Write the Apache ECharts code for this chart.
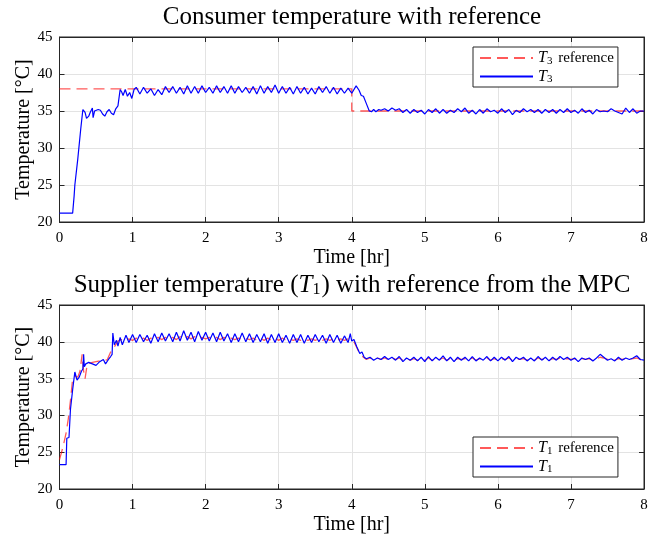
<!DOCTYPE html>
<html>
<head>
<meta charset="utf-8">
<script src="https://cdn.jsdelivr.net/npm/echarts@6/dist/echarts.min.js"></script>
<style>html,body{margin:0;padding:0;background:#fff}#c{width:666px;height:536px}</style>
</head>
<body>
<div id="c"></div>
<script>
// ---- data (time [hr], temperature [°C]) ----
const xTicks = [0,1,2,3,4,5,6,7,8];
const yTicks = [20,25,30,35,40,45];

const t3Ref = [[0,38],[4,38],[4,35],[8,35]];
const t3 = [
[0,21.2],[0.18,21.2],[0.2,23.5],[0.21,25.0],[0.25,28.5],[0.29,32.5],[0.32,35.2],[0.35,34.8],[0.37,34.0],[0.4,34.3],
[0.42,34.8],[0.44,34.6],[0.45,35.4],[0.46,34.1],[0.48,35.0],[0.5,34.8],[0.53,35.2],[0.56,35.1],[0.59,34.6],[0.62,34.3],
[0.65,34.9],[0.68,35.2],[0.71,34.7],[0.74,34.5],[0.77,35.3],[0.8,35.7],[0.82,35.9],[0.83,37.9],[0.85,37.6],[0.87,37.1],
[0.9,37.9],[0.93,37.0],[0.96,37.5],[0.99,36.7],[1.02,37.9],[1.05,38.2],[1.10,37.3],[1.15,38.2],[1.20,37.4],[1.25,38.0],
[1.30,37.1],[1.35,37.9],[1.40,37.2],[1.45,38.3],[1.50,37.5],[1.55,38.3],[1.60,37.4],[1.65,38.2],[1.70,37.3],[1.75,38.4],
[1.80,37.4],[1.85,38.3],[1.90,37.4],[1.95,38.4],[2.00,37.5],[2.05,38.2],[2.10,37.4],[2.15,38.4],[2.20,37.5],[2.25,38.3],
[2.30,37.4],[2.35,38.4],[2.40,37.4],[2.45,38.3],[2.50,37.5],[2.55,38.2],[2.60,37.4],[2.65,38.3],[2.70,37.3],[2.75,38.4],
[2.80,37.4],[2.85,38.3],[2.90,37.5],[2.95,38.5],[3.00,37.4],[3.05,38.3],[3.10,37.4],[3.15,38.2],[3.20,37.3],[3.25,38.3],
[3.30,37.4],[3.35,38.2],[3.40,37.3],[3.45,38.1],[3.50,37.3],[3.55,38.3],[3.60,37.5],[3.65,38.3],[3.70,37.4],[3.75,38.2],
[3.80,37.3],[3.85,38.1],[3.90,37.4],[3.95,38.1],[4.00,37.4],[4.06,38.4],[4.10,37.8],[4.13,37.1],[4.16,37.0],[4.20,36.0],
[4.24,35.0],[4.27,34.9],[4.30,35.2],[4.33,34.9],[4.37,35.2],[4.40,35.1],[4.45,35.3],[4.50,35.0],[4.55,35.4],[4.60,35.1],
[4.65,35.3],[4.70,34.8],[4.75,35.2],[4.80,34.7],[4.85,35.2],[4.90,34.8],[4.95,35.1],[5.00,34.6],[5.05,35.2],[5.10,34.8],
[5.15,35.3],[5.20,34.7],[5.25,35.2],[5.30,34.7],[5.35,35.1],[5.40,34.8],[5.45,35.3],[5.50,34.9],[5.55,35.4],[5.60,34.7],
[5.65,35.1],[5.70,34.6],[5.75,35.2],[5.80,34.7],[5.85,35.3],[5.90,34.9],[5.95,35.1],[6.00,34.7],[6.05,35.3],[6.10,34.8],
[6.15,35.2],[6.20,34.5],[6.25,35.1],[6.30,34.8],[6.35,35.3],[6.40,34.9],[6.45,35.2],[6.50,34.8],[6.55,35.2],[6.60,34.7],
[6.65,35.2],[6.70,34.8],[6.75,35.2],[6.80,34.7],[6.85,35.2],[6.90,34.8],[6.95,35.3],[7.00,34.8],[7.05,35.1],[7.10,34.7],
[7.15,35.3],[7.20,34.8],[7.25,35.1],[7.30,34.6],[7.35,35.2],[7.40,34.9],[7.45,35.0],[7.50,34.9],[7.55,35.3],[7.60,35.0],
[7.65,34.8],[7.70,34.6],[7.75,35.4],[7.80,34.8],[7.85,35.3],[7.90,34.7],[7.95,35.0],[8.00,35.0]
];

const t1Ref = [
[0,24.0],[0.05,25.8],[0.09,27.6],[0.12,29.5],[0.15,32.0],[0.18,35.0],[0.21,35.3],[0.25,35.2],[0.28,36.0],[0.31,38.3],
[0.33,36.0],[0.35,35.0],[0.38,37.0],[0.45,37.2],[0.55,37.4],[0.60,37.6],[0.65,37.5],[0.70,38.6],[0.75,39.3],[0.80,40.1],
[0.85,40.3],[0.90,40.1],[0.95,40.4],[1.00,40.2],[1.05,40.5],[1.10,40.2],[1.15,40.5],[1.20,40.2],[1.25,40.5],[1.30,40.3],
[1.35,40.6],[1.40,40.3],[1.45,40.6],[1.50,40.3],[1.55,40.6],[1.60,40.3],[1.65,40.7],[1.70,40.4],[1.75,40.7],[1.80,40.4],
[1.85,40.7],[1.90,40.4],[1.95,40.6],[2.00,40.4],[2.05,40.6],[2.10,40.3],[2.15,40.6],[2.20,40.3],[2.25,40.6],[2.30,40.3],
[2.35,40.5],[2.40,40.3],[2.45,40.5],[2.50,40.3],[2.55,40.5],[2.60,40.3],[2.65,40.5],[2.70,40.2],[2.75,40.5],[2.80,40.2],
[2.85,40.5],[2.90,40.2],[2.95,40.5],[3.00,40.2],[3.05,40.5],[3.10,40.2],[3.15,40.4],[3.20,40.2],[3.25,40.4],[3.30,40.2],
[3.35,40.4],[3.40,40.2],[3.45,40.4],[3.50,40.2],[3.55,40.4],[3.60,40.2],[3.65,40.4],[3.70,40.2],[3.75,40.4],[3.80,40.2],
[3.85,40.4],[3.90,40.2],[3.95,40.4],[4.00,40.2],[4.03,40.0],[4.07,39.2],[4.11,38.4],[4.16,37.9],[4.20,37.6],[4.25,37.8],
[4.30,37.6],[4.35,37.8],[4.40,37.6],[4.45,37.8],[4.50,37.6],[4.55,37.8],[4.60,37.6],[4.65,37.8],[4.70,37.5],[4.75,37.7],
[4.80,37.5],[4.85,37.7],[4.90,37.5],[4.95,37.7],[5.00,37.5],[5.05,37.8],[5.10,37.5],[5.15,37.7],[5.20,37.6],[5.25,37.8],
[5.30,37.5],[5.35,37.7],[5.40,37.5],[5.45,37.7],[5.50,37.6],[5.55,37.7],[5.60,37.5],[5.65,37.8],[5.70,37.5],[5.75,37.7],
[5.80,37.6],[5.85,37.8],[5.90,37.5],[5.95,37.7],[6.00,37.5],[6.05,37.7],[6.10,37.6],[6.15,37.8],[6.20,37.5],[6.25,37.7],
[6.30,37.6],[6.35,37.7],[6.40,37.5],[6.45,37.7],[6.50,37.5],[6.55,37.8],[6.60,37.6],[6.65,37.7],[6.70,37.5],[6.75,37.7],
[6.80,37.6],[6.85,37.8],[6.90,37.6],[6.95,37.7],[7.00,37.6],[7.05,37.7],[7.10,37.5],[7.15,37.7],[7.20,37.6],[7.25,37.7],
[7.30,37.5],[7.35,37.7],[7.40,37.9],[7.45,37.8],[7.50,37.6],[7.55,37.7],[7.60,37.5],[7.65,37.7],[7.70,37.6],[7.75,37.7],
[7.80,37.6],[7.85,37.7],[7.90,37.8],[7.95,37.6],[8.00,36.8]
];
const t1 = [
[0,23.3],[0.09,23.3],[0.10,26.9],[0.13,27.0],[0.15,30.8],[0.18,33.5],[0.21,35.9],[0.24,34.8],[0.27,35.2],[0.30,36.0],
[0.32,36.3],[0.33,38.3],[0.34,36.6],[0.36,37.0],[0.40,37.2],[0.45,37.0],[0.50,36.8],[0.55,37.3],[0.60,37.6],[0.63,37.0],
[0.67,37.6],[0.70,38.0],[0.72,38.3],[0.73,41.2],[0.75,39.6],[0.78,40.2],[0.80,39.4],[0.83,40.6],[0.86,39.6],[0.88,39.4],
[0.91,40.9],[0.95,39.9],[1.00,41.0],[1.05,39.9],[1.10,41.0],[1.15,40.0],[1.20,40.9],[1.25,39.8],[1.30,41.1],[1.35,40.0],
[1.40,41.2],[1.45,40.1],[1.50,41.1],[1.55,40.0],[1.60,41.3],[1.65,40.1],[1.70,41.5],[1.75,40.2],[1.80,41.3],[1.85,40.0],
[1.90,41.4],[1.95,40.2],[2.00,41.3],[2.05,40.1],[2.10,41.2],[2.15,40.0],[2.20,41.3],[2.25,40.1],[2.30,41.1],[2.35,39.9],
[2.40,41.1],[2.45,40.0],[2.50,41.2],[2.55,40.0],[2.60,41.1],[2.65,39.9],[2.70,41.0],[2.75,40.0],[2.80,41.1],[2.85,39.8],
[2.90,41.0],[2.95,39.9],[3.00,41.1],[3.05,39.9],[3.10,40.9],[3.15,39.8],[3.20,41.0],[3.25,39.9],[3.30,41.0],[3.35,39.8],
[3.40,40.9],[3.45,39.9],[3.50,41.0],[3.55,40.0],[3.60,40.9],[3.65,39.8],[3.70,41.0],[3.75,39.9],[3.80,40.9],[3.85,39.8],
[3.90,40.8],[3.95,39.9],[3.98,41.1],[4.00,40.1],[4.03,40.3],[4.07,39.3],[4.11,38.4],[4.14,38.6],[4.17,37.9],[4.20,37.7],
[4.25,37.9],[4.30,37.5],[4.35,37.8],[4.40,37.6],[4.45,38.0],[4.50,37.6],[4.55,37.9],[4.60,37.5],[4.65,38.0],[4.70,37.3],
[4.75,37.8],[4.80,37.5],[4.85,37.9],[4.90,37.4],[4.95,37.9],[5.00,37.3],[5.05,38.0],[5.10,37.4],[5.15,37.9],[5.20,37.5],
[5.25,38.1],[5.30,37.4],[5.35,37.9],[5.40,37.3],[5.45,37.9],[5.50,37.5],[5.55,37.9],[5.60,37.4],[5.65,38.0],[5.70,37.4],
[5.75,37.8],[5.80,37.5],[5.85,38.0],[5.90,37.4],[5.95,37.9],[6.00,37.4],[6.05,37.9],[6.10,37.5],[6.15,38.0],[6.20,37.3],
[6.25,37.9],[6.30,37.6],[6.35,37.9],[6.40,37.4],[6.45,37.8],[6.50,37.4],[6.55,38.0],[6.60,37.5],[6.65,37.9],[6.70,37.4],
[6.75,37.9],[6.80,37.5],[6.85,38.0],[6.90,37.6],[6.95,37.9],[7.00,37.5],[7.05,37.8],[7.10,37.3],[7.15,37.8],[7.20,37.6],
[7.25,37.8],[7.30,37.4],[7.35,37.8],[7.40,38.3],[7.45,37.9],[7.50,37.5],[7.55,37.7],[7.60,37.4],[7.65,37.9],[7.70,37.5],
[7.75,37.8],[7.80,37.6],[7.85,37.8],[7.90,38.1],[7.95,37.6],[8.00,37.5]
];

// ---- chart ----
const FONT = 'Liberation Serif';
const INK = '#262626';
const rich = {
  i: {fontFamily: FONT, fontStyle: 'italic', fontSize: 16, color: '#000'},
  s: {fontFamily: FONT, fontSize: 11, color: '#000', verticalAlign: 'bottom', padding: [6,2,0,0]},
  n: {fontFamily: FONT, fontSize: 15, color: '#000'}
};
const titleRich = {
  i: {fontFamily: FONT, fontStyle: 'italic', fontSize: 25, color: '#000'},
  s: {fontFamily: FONT, fontSize: 16, color: '#000', verticalAlign: 'bottom', padding: [10,1,0,0]}
};
function legendFmt(name) {
  const m = name.match(/^T(\d)(.*)$/);
  return '{i|T}{s|' + m[1] + '}' + (m[2] ? '{n|' + m[2] + '}' : '');
}
const grids = [
  {left: 59.5, right: 22, top: 37, height: 185, show: true, borderColor: INK, borderWidth: 1},
  {left: 59.5, right: 22, top: 305, height: 185, show: true, borderColor: INK, borderWidth: 1}
];
function xAx(g, pos) {
  const main = pos === 'bottom';
  return {
    type: 'value', gridIndex: g, position: pos, min: xTicks[0], max: xTicks[xTicks.length-1], interval: 1,
    name: main ? 'Time [hr]' : '', nameLocation: 'middle', nameGap: 26, nameMoveOverlap: false,
    nameTextStyle: {fontFamily: FONT, fontSize: 20, color: '#000'},
    axisLine: {show: true, onZero: false, lineStyle: {color: INK, width: 1}},
    axisTick: {show: true, inside: true, length: 5, lineStyle: {color: INK}},
    axisLabel: {show: main, fontFamily: FONT, fontSize: 15, color: '#000', margin: 9},
    splitLine: {show: main, lineStyle: {color: '#e3e3e3', width: 1}}
  };
}
function yAx(g, pos) {
  const main = pos === 'left';
  return {
    type: 'value', gridIndex: g, position: pos, min: yTicks[0], max: yTicks[yTicks.length-1], interval: 5,
    name: main ? 'Temperature [°C]' : '', nameLocation: 'middle', nameGap: 26, nameMoveOverlap: false,
    nameTextStyle: {fontFamily: FONT, fontSize: 20, color: '#000'},
    axisLine: {show: true, onZero: false, lineStyle: {color: INK, width: 1}},
    axisTick: {show: true, inside: true, length: 5, lineStyle: {color: INK}},
    axisLabel: {show: main, fontFamily: FONT, fontSize: 15, color: '#000', margin: 7},
    splitLine: {show: main, lineStyle: {color: '#e3e3e3', width: 1}}
  };
}
function legend(names, top) {
  return {
    data: names, orient: 'vertical', left: 473, top: top,
    backgroundColor: '#fff', borderColor: INK, borderWidth: 1, borderRadius: 0,
    padding: [3, 4, 2, 6], itemGap: 2, itemWidth: 53, itemHeight: 10,
    itemStyle: {opacity: 0},
    textStyle: {fontFamily: FONT, fontSize: 15, color: '#000', rich: rich},
    formatter: legendFmt
  };
}
const refStyle = {color: 'rgba(255,0,0,0.65)', width: 1.3, type: [11, 6]};
const meas = {color: '#0000ff', width: 1.2};

const option = {
  animation: false,
  backgroundColor: '#fff',
  title: [
    {text: 'Consumer temperature with reference', left: 352, textAlign: 'center', top: 5, padding: 0,
     textStyle: {fontFamily: FONT, fontSize: 25, fontWeight: 'normal', color: '#000'}},
    {text: 'Supplier temperature ({i|T}{s|1}) with reference from the MPC', left: 352, textAlign: 'center', top: 272, padding: 0,
     textStyle: {fontFamily: FONT, fontSize: 25, fontWeight: 'normal', color: '#000', rich: titleRich}}
  ],
  legend: [legend(['T3 reference', 'T3'], 47), legend(['T1 reference', 'T1'], 437)],
  grid: grids,
  xAxis: [xAx(0,'bottom'), xAx(0,'top'), xAx(1,'bottom'), xAx(1,'top')],
  yAxis: [yAx(0,'left'), yAx(0,'right'), yAx(1,'left'), yAx(1,'right')],
  series: [
    {name: 'T3 reference', type: 'line', xAxisIndex: 0, yAxisIndex: 0, data: t3Ref, symbol: 'none', lineStyle: refStyle, itemStyle: {color: 'rgba(255,0,0,0.65)'}},
    {name: 'T3', type: 'line', xAxisIndex: 0, yAxisIndex: 0, data: t3, symbol: 'none', lineStyle: meas, itemStyle: {color: '#0000ff'}},
    {name: 'T1 reference', type: 'line', xAxisIndex: 2, yAxisIndex: 2, data: t1Ref, symbol: 'none', lineStyle: refStyle, itemStyle: {color: 'rgba(255,0,0,0.65)'}},
    {name: 'T1', type: 'line', xAxisIndex: 2, yAxisIndex: 2, data: t1, symbol: 'none', lineStyle: meas, itemStyle: {color: '#0000ff'}}
  ]
};
const chart = echarts.init(document.getElementById('c'), null, {renderer: 'canvas'});
chart.setOption(option);
</script>
</body>
</html>
